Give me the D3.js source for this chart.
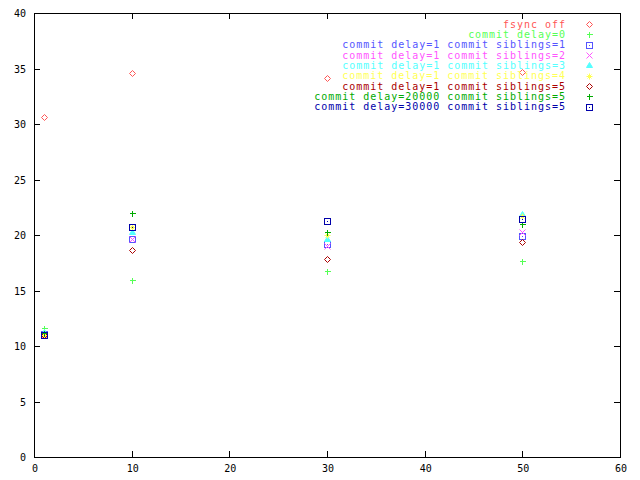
<!DOCTYPE html>
<html><head><meta charset="utf-8">
<script src="https://cdn.jsdelivr.net/npm/d3@7"></script>
<style>
body{margin:0;background:#fff;}
text{font-family:"DejaVu Sans Mono","Liberation Mono",monospace;font-size:10px;}
</style>
</head><body>
<svg id="c" width="640" height="480"></svg>
<script>
const xValues = [1, 10, 30, 50];
const xTicks = [0, 10, 20, 30, 40, 50, 60];
const yTicks = [0, 5, 10, 15, 20, 25, 30, 35, 40];

const seriesNames = [
  "fsync off",
  "commit delay=0",
  "commit delay=1 commit siblings=1",
  "commit delay=1 commit siblings=2",
  "commit delay=1 commit siblings=3",
  "commit delay=1 commit siblings=4",
  "commit delay=1 commit siblings=5",
  "commit delay=20000 commit siblings=5",
  "commit delay=30000 commit siblings=5"
];
const fsyncOff = [30.6, 34.6, 34.1, 34.65];
const delay0   = [11.6, 15.95, 16.8, 17.7];
const sib1     = [11.1, 19.65, 19.2, 19.9];
const sib2     = [11.0, 19.65, 19.05, 20.25];
const sib3     = [11.3, 20.3, 19.65, 21.85];
const sib4     = [11.0, 20.7, 20.0, 21.7];
const sib5     = [11.0, 18.65, 17.85, 19.4];
const d20000   = [11.2, 22.0, 20.3, 21.0];
const d30000   = [11.0, 20.7, 21.3, 21.45];
const seriesValues = [fsyncOff, delay0, sib1, sib2, sib3, sib4, sib5, d20000, d30000];
const colors = ["#ff5555","#55ff55","#5555ff","#ff55ff","#55ffff","#ffff55","#aa0000","#00aa00","#0000aa"];
const shapes = ["diamond","plus","box","cross","triangle","star","diamond","plus","box"];

const L = 34, R = 620, T = 13, B = 457;
const svg = d3.select("#c");
const x = d3.scaleLinear().domain([0, 60]).range([L, R]);
const y = d3.scaleLinear().domain([0, 40]).range([B, T]);

// border
svg.append("rect").attr("x", L + 0.5).attr("y", T + 0.5)
  .attr("width", R - L).attr("height", B - T)
  .attr("fill", "none").attr("stroke", "#000").attr("shape-rendering", "crispEdges");

const tl = 6;
const ax = svg.append("g").attr("stroke", "#000").attr("shape-rendering", "crispEdges");
xTicks.forEach(t => {
  const px = Math.round(x(t)) + 0.5;
  ax.append("line").attr("x1", px).attr("x2", px).attr("y1", B).attr("y2", B - tl);
  ax.append("line").attr("x1", px).attr("x2", px).attr("y1", T).attr("y2", T + tl);
});
yTicks.forEach(t => {
  const py = Math.round(y(t)) + 0.5;
  ax.append("line").attr("x1", L).attr("x2", L + tl).attr("y1", py).attr("y2", py);
  ax.append("line").attr("x1", R).attr("x2", R - tl).attr("y1", py).attr("y2", py);
});
svg.append("g").selectAll("text").data(xTicks).join("text")
  .attr("x", d => x(d) + 1).attr("y", B + 15).attr("text-anchor", "middle").text(d => d);
svg.append("g").selectAll("text").data(yTicks).join("text")
  .attr("x", 26).attr("y", d => y(d) + 4).attr("text-anchor", "end").text(d => d);

function drawPoint(g, shape, cx, cy, color) {
  cx = Math.round(cx) + 0.5; cy = Math.round(cy) + 0.5;
  const s = 3;
  const p = g.append("g").attr("stroke", color).attr("fill", "none").attr("stroke-width", 1);
  if (shape === "diamond") {
    p.append("path").attr("d", `M${cx-s},${cy}L${cx},${cy-s}L${cx+s},${cy}L${cx},${cy+s}Z`);
  } else if (shape === "plus") {
    p.append("path").attr("d", `M${cx-s},${cy}H${cx+s}M${cx},${cy-s}V${cy+s}`).attr("shape-rendering","crispEdges");
  } else if (shape === "box") {
    p.append("rect").attr("x", cx - s).attr("y", cy - s).attr("width", 2*s).attr("height", 2*s).attr("shape-rendering","crispEdges");
    p.append("rect").attr("x", cx - 0.5).attr("y", cy - 0.5).attr("width", 1).attr("height", 1).attr("fill", color).attr("stroke","none");
  } else if (shape === "cross") {
    p.append("path").attr("d", `M${cx-s},${cy-s}L${cx+s},${cy+s}M${cx-s},${cy+s}L${cx+s},${cy-s}`);
  } else if (shape === "triangle") {
    p.append("path").attr("d", `M${cx},${cy-s}L${cx+s},${cy+2}L${cx-s},${cy+2}Z`).attr("fill", color);
  } else if (shape === "star") {
    p.append("path").attr("d", `M${cx-s},${cy}H${cx+s}M${cx},${cy-s}V${cy+s}M${cx-s+1},${cy-s+1}L${cx+s-1},${cy+s-1}M${cx-s+1},${cy+s-1}L${cx+s-1},${cy-s+1}`);
  }
}

const pts = svg.append("g");
const leg = svg.append("g");
seriesValues.forEach((vals, i) => {
  vals.forEach((v, j) => drawPoint(pts, shapes[i], x(xValues[j]), y(v), colors[i]));
  const ly = 24 + i * 10.35;
  leg.append("text").attr("x", 566).attr("y", ly + 3.5).attr("text-anchor", "end")
    .attr("fill", colors[i]).attr("letter-spacing", "0.97px").text(seriesNames[i]);
  drawPoint(leg, shapes[i], 589, ly, colors[i]);
});
</script>
</body></html>
